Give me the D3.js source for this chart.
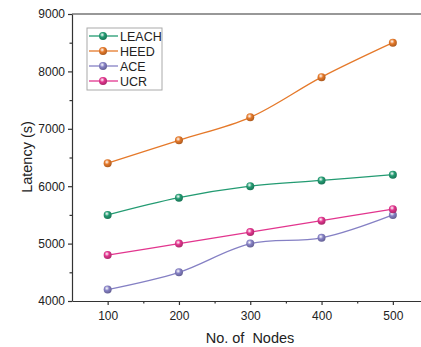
<!DOCTYPE html>
<html><head><meta charset="utf-8">
<script src="https://cdn.jsdelivr.net/npm/d3@7"></script>
<style>body{margin:0;background:#fff}svg{display:block}text{font-family:"Liberation Sans",Arial,sans-serif}</style>
</head><body><svg id="c" width="421" height="347"></svg>
<script>
const nodes = [100, 200, 300, 400, 500];
const leach = [5500, 5800, 6000, 6100, 6200];
const heed = [6400, 6800, 7200, 7900, 8500];
const ace = [4200, 4500, 5000, 5100, 5500];
const ucr = [4800, 5000, 5200, 5400, 5600];
const seriesNames = ["LEACH", "HEED", "ACE", "UCR"];
const seriesColors = ["#239b72", "#e5792a", "#8580c4", "#e2358e"];
const yTicks = [4000, 5000, 6000, 7000, 8000, 9000];
const xTicks = [100, 200, 300, 400, 500];

const series = [leach, heed, ace, ucr].map((v, i) => ({name: seriesNames[i], color: seriesColors[i], values: v}));
const svg = d3.select("#c");
const x = d3.scaleLinear().domain([50, 550]).range([72, 428.5]);
const y = d3.scaleLinear().domain([4000, 9000]).range([301, 14]);

const defs = svg.append("defs");
series.forEach((s, i) => {
  const g = defs.append("radialGradient").attr("id", "g" + i).attr("cx", "40%").attr("cy", "35%").attr("r", "65%");
  g.append("stop").attr("offset", "0%").attr("stop-color", "#fff");
  g.append("stop").attr("offset", "45%").attr("stop-color", s.color);
  g.append("stop").attr("offset", "100%").attr("stop-color", d3.color(s.color).darker(0.8));
});

svg.append("line").attr("x1", 72).attr("x2", 421).attr("y1", 14).attr("y2", 14).attr("stroke", "#333").attr("stroke-width", 1.2);

svg.append("g").attr("transform", "translate(0,301)")
  .call(d3.axisBottom(x).tickValues(xTicks).tickFormat(d3.format("d")).tickSize(4).tickSizeOuter(0).tickPadding(6));
svg.append("g").attr("transform", "translate(0,301)")
  .call(d3.axisBottom(x).tickValues([150, 250, 350, 450, 550]).tickSize(2.5).tickFormat("").tickSizeOuter(0))
  .select(".domain").remove();
svg.append("g").attr("transform", "translate(72,0)")
  .call(d3.axisLeft(y).tickValues(yTicks).tickFormat(d3.format("d")).tickSize(4).tickSizeOuter(0).tickPadding(3));
svg.append("g").attr("transform", "translate(72,0)")
  .call(d3.axisLeft(y).tickValues([4500, 5500, 6500, 7500, 8500]).tickSize(2.5).tickFormat("").tickSizeOuter(0))
  .select(".domain").remove();
svg.selectAll(".domain, .tick line").attr("stroke", "#333").attr("stroke-width", 1.2);
svg.selectAll(".tick text").attr("font-size", 12).attr("fill", "#222");

const line = d3.line().x((d, i) => x(nodes[i])).y(d => y(d)).curve(d3.curveCatmullRom.alpha(0.5));
series.forEach((s, i) => {
  svg.append("path").attr("d", line(s.values)).attr("fill", "none").attr("stroke", s.color).attr("stroke-width", 1.3);
  svg.selectAll(null).data(s.values).enter().append("circle")
    .attr("cx", (d, j) => x(nodes[j])).attr("cy", d => y(d)).attr("r", 4).attr("fill", "url(#g" + i + ")");
});

const lg = svg.append("g");
lg.append("rect").attr("x", 87).attr("y", 28).attr("width", 75).attr("height", 62).attr("fill", "#fff").attr("stroke", "#aaa").attr("stroke-width", 1);
series.forEach((s, i) => {
  const yy = 36 + i * 15;
  lg.append("line").attr("x1", 89).attr("x2", 118).attr("y1", yy).attr("y2", yy).attr("stroke", s.color).attr("stroke-width", 1.3);
  lg.append("circle").attr("cx", 103).attr("cy", yy).attr("r", 4).attr("fill", "url(#g" + i + ")");
  lg.append("text").attr("x", 120).attr("y", yy + 4.5).attr("font-size", 12.5).attr("fill", "#222").text(s.name);
});

svg.append("text").attr("transform", "translate(32,157) rotate(-90)").attr("text-anchor", "middle").attr("font-size", 14.5).attr("fill", "#222").text("Latency (s)");
svg.append("text").attr("x", 250).attr("y", 343).attr("text-anchor", "middle").attr("font-size", 14.5).attr("fill", "#222").style("white-space", "pre").text("No. of  Nodes");
</script></body></html>
